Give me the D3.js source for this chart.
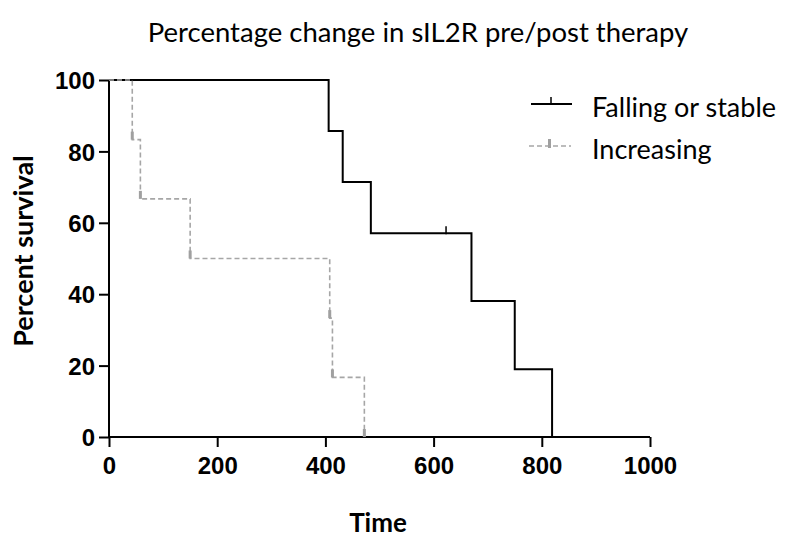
<!DOCTYPE html>
<html><head><meta charset="utf-8">
<script src="https://cdn.jsdelivr.net/npm/d3@7"></script>
<style>
body{margin:0;background:#fff;}
svg{display:block;}
</style></head>
<body><svg id="c" width="794" height="539"></svg>
<script>
const title = "Percentage change in sIL2R pre/post therapy";
const xLabel = "Time";
const yLabel = "Percent survival";
const seriesNames = ["Falling or stable", "Increasing"];
const xTicks = [0, 200, 400, 600, 800, 1000];
const yTicks = [0, 20, 40, 60, 80, 100];

const fallingTime = [0, 406, 432, 484, 623, 670, 750, 819];
const fallingSurv = [100, 85.7, 71.4, 57.1, 57.1, 38.1, 19.0, 0];
const fallingCensored = [false, false, false, false, true, false, false, false];

const increasingTime = [0, 43, 58, 150, 408, 413, 472];
const increasingSurv = [100, 83.3, 66.7, 50, 33.3, 16.7, 0];

const svg = d3.select("#c");
const x = d3.scaleLinear().domain([0, 1000]).range([109, 650]);
const y = d3.scaleLinear().domain([0, 100]).range([437, 80]);

const tickFont = "'Liberation Sans', Arial, sans-serif";
const calFont = "Lato, 'Open Sans', sans-serif";

// axes
const xAxis = svg.append("g").attr("transform", `translate(0,${y(0)})`)
  .call(d3.axisBottom(x).tickValues(xTicks).tickSize(10).tickPadding(4).tickFormat(d3.format("d")));
const yAxis = svg.append("g").attr("transform", `translate(${x(0)},0)`)
  .call(d3.axisLeft(y).tickValues(yTicks).tickSize(10).tickPadding(4).tickFormat(d3.format("d")));
[xAxis, yAxis].forEach(g => {
  g.select(".domain").attr("stroke", "#000").attr("stroke-width", 2);
  g.selectAll(".tick line").attr("stroke", "#000").attr("stroke-width", 2);
  g.selectAll(".tick text").attr("fill", "#000").style("font-family", tickFont)
    .style("font-weight", "bold").style("font-size", "24px");
});
xAxis.select(".domain").attr("d", `M${x(0)},0H${x(1000)}`);
yAxis.select(".domain").attr("d", `M0,${y(0)}V${y(100)}`);
xAxis.selectAll(".tick text").attr("dy", "0.95em");
yAxis.selectAll(".tick text").attr("dy", "0.36em");

const line = d3.line().curve(d3.curveStepAfter).x(d => x(d[0])).y(d => y(d[1]));

// falling or stable
const fData = fallingTime.map((t, i) => [t, fallingSurv[i]]);
svg.append("path").attr("d", line(fData)).attr("fill", "none")
  .attr("stroke", "#000").attr("stroke-width", 2);
fData.forEach((d, i) => {
  if (fallingCensored[i]) {
    svg.append("line").attr("x1", x(d[0])).attr("x2", x(d[0]))
      .attr("y1", y(d[1]) + 1).attr("y2", y(d[1]) - 7)
      .attr("stroke", "#000").attr("stroke-width", 1.5);
  }
});

// increasing
const iData = increasingTime.map((t, i) => [t, increasingSurv[i]]);
svg.append("path").attr("d", line(iData)).attr("fill", "none")
  .attr("stroke", "#a6a6a6").attr("stroke-width", 1.6).attr("stroke-dasharray", "5,3");
iData.slice(1).forEach(d => {
  svg.append("rect").attr("x", x(d[0]) - 1.5).attr("y", y(d[1]) - 8)
    .attr("width", 3).attr("height", 8).attr("fill", "#a0a0a0");
});

// legend
const lg = svg.append("g");
lg.append("line").attr("x1", 531).attr("x2", 572).attr("y1", 104).attr("y2", 104)
  .attr("stroke", "#000").attr("stroke-width", 2);
lg.append("line").attr("x1", 551).attr("x2", 551).attr("y1", 104).attr("y2", 97)
  .attr("stroke", "#000").attr("stroke-width", 1.5);
lg.append("line").attr("x1", 529).attr("x2", 571).attr("y1", 146).attr("y2", 146)
  .attr("stroke", "#a6a6a6").attr("stroke-width", 1.6).attr("stroke-dasharray", "5,3");
lg.append("rect").attr("x", 548).attr("y", 139).attr("width", 3).attr("height", 9).attr("fill", "#a0a0a0");
lg.append("text").attr("x", 592).attr("y", 117).text(seriesNames[0])
  .style("font-family", calFont).style("font-size", "27px").attr("fill", "#000");
lg.append("text").attr("x", 592).attr("y", 159).text(seriesNames[1])
  .style("font-family", calFont).style("font-size", "27px").attr("fill", "#000");

// title & labels
svg.append("text").attr("x", 418).attr("y", 42).attr("text-anchor", "middle").text(title)
  .style("font-family", calFont).style("font-size", "27.5px").attr("fill", "#000");
svg.append("text").attr("x", 378).attr("y", 532).attr("text-anchor", "middle").text(xLabel)
  .style("font-family", calFont).style("font-weight", "bold").style("font-size", "26px").attr("fill", "#000");
svg.append("text").attr("transform", "translate(33,251) rotate(-90)").attr("text-anchor", "middle").text(yLabel)
  .style("font-family", calFont).style("font-weight", "bold").style("font-size", "27px").attr("fill", "#000");
</script></body></html>
